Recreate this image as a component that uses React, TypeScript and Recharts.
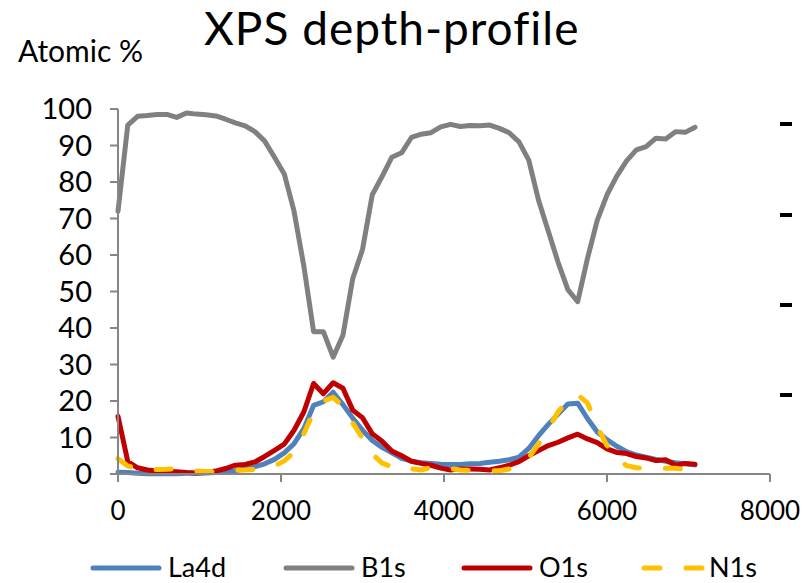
import { LineChart, Line, XAxis, YAxis } from "recharts";

// sputter depth (s) and atomic % per element
const depth = [
  0, 120, 240, 360, 480, 600, 720, 840, 960, 1080, 1200, 1320, 1440, 1560, 1680,
  1800, 1920, 2040, 2160, 2280, 2400, 2520, 2640, 2760, 2880, 3000, 3120, 3240,
  3360, 3480, 3600, 3720, 3840, 3960, 4080, 4200, 4320, 4440, 4560, 4680, 4800,
  4920, 5040, 5160, 5280, 5400, 5520, 5640, 5760, 5880, 6000, 6120, 6240, 6360,
  6480, 6600, 6720, 6840, 6960, 7080,
];

const la4d = [
  0.5, 0.4, 0.2, 0.1, 0.1, 0.1, 0.1, 0.2, 0.2, 0.3, 0.4, 0.7, 0.9, 1.4, 2.0,
  2.8, 4.0, 5.8, 8.3, 12.4, 18.8, 19.8, 22.4, 19.0, 15.3, 12.0, 9.2, 7.3, 5.8,
  4.3, 3.5, 3.1, 2.9, 2.7, 2.6, 2.6, 2.8, 2.9, 3.2, 3.5, 3.9, 4.6, 7.0, 10.5,
  13.6, 16.4, 19.2, 19.4, 15.2, 11.5, 9.4, 7.6, 6.1, 5.2, 4.6, 4.0, 3.5, 3.1,
  2.8, 2.5,
];

const b1s = [
  72, 95.6, 98, 98.2, 98.5, 98.5, 97.7, 98.9, 98.6, 98.4, 98.1, 97.2, 96.2,
  95.4, 93.8, 91.2, 86.8, 82.2, 72, 57, 39, 39, 32, 38, 53.5, 61.5, 76.5, 81.5,
  86.8, 88, 92.2, 93.1, 93.5, 95.1, 95.8, 95.2, 95.5, 95.4, 95.6, 94.7, 93.5,
  91, 86, 75, 66.5, 58, 50.5, 47.2, 59, 69.5, 76.5, 81.6, 85.8, 88.8, 89.7, 92,
  91.8, 93.8, 93.6, 95,
];

const o1s = [
  15.8, 3.4, 1.7, 1.1, 0.8, 0.7, 0.6, 0.4, 0.3, 0.4, 0.8, 1.5, 2.4, 2.6, 3.3,
  4.8, 6.5, 8.2, 12, 17, 24.8, 22, 25, 23.5, 17.5, 15.4, 11, 9, 6.3, 5, 3.5,
  2.9, 2.4, 1.6, 1.1, 1.4, 1.4, 1.3, 1.1, 1.7, 2.4, 3.4, 5, 6.4, 7.8, 8.7, 9.9,
  10.9, 9.6, 8.6, 6.9, 5.9, 5.6, 4.8, 4.4, 3.7, 3.9, 2.4, 2.9, 2.7,
];

const n1s = [
  4.2, 2.2, 1.4, 1.2, 1.2, 1.3, 1.5, 1.0, 0.8, 0.7, 0.7, 0.8, 1.0, 1.1, 1.3,
  1.5, 2.2, 3.6, 6.0, 11, 17, 20, 21, 18.5, 14, 9.8, 5.5, 3.0, 2.0, 2.5, 1.4,
  1.1, 1.8, 2.0, 1.5, 1.1, 1.0, 1.1, 0.9, 0.9, 1.4, 2.4, 4.5, 8.2, 12.5, 17,
  20.3, 21.7, 19.5, 13, 7.8, 4.2, 2.3, 1.7, 1.6, 1.6, 1.6, 1.6, 1.2, 0.6,
];

const xTicks = [0, 2000, 4000, 6000, 8000];
const yTicks = [0, 10, 20, 30, 40, 50, 60, 70, 80, 90, 100];

const series = [
  { key: "la4d", name: "La4d", color: "#4F81BD", dash: undefined },
  { key: "b1s", name: "B1s", color: "#808080", dash: undefined },
  { key: "o1s", name: "O1s", color: "#C00000", dash: undefined },
  { key: "n1s", name: "N1s", color: "#FFC000", dash: "15 26" },
];

const data = depth.map((d, i) => ({
  depth: d,
  la4d: la4d[i],
  b1s: b1s[i],
  o1s: o1s[i],
  n1s: n1s[i],
}));

const FONT = "Lato, 'Liberation Sans', sans-serif";
const axisColor = "#868686";

// legend swatch / label positions along the bottom row
const legendPos = [
  { left: 93, textLeft: 168 },
  { left: 286, textLeft: 361 },
  { left: 464, textLeft: 539 },
  { left: 644, textLeft: 709 },
];

function LegendRow() {
  return (
    <>
      {series.map((s, i) => (
        <div key={s.key}>
          <svg
            style={{
              position: "absolute",
              left: legendPos[i].left - 4,
              top: 560,
              zIndex: 2,
            }}
            width={80}
            height={16}
          >
            <line
              x1={4}
              y1={8}
              x2={s.dash ? 64 : 70}
              y2={8}
              stroke={s.color}
              strokeWidth={5}
              strokeLinecap="round"
              strokeDasharray={s.dash ? "16 26" : undefined}
            />
          </svg>
          <span
            style={{
              position: "absolute",
              left: legendPos[i].textLeft,
              top: 550,
              zIndex: 2,
              fontSize: 27,
              lineHeight: "normal",
              color: "#000",
              whiteSpace: "nowrap",
            }}
          >
            {s.name}
          </span>
        </div>
      ))}
    </>
  );
}

export default function App() {
  return (
    <div
      style={{
        position: "relative",
        width: 805,
        height: 583,
        fontFamily: FONT,
        background: "#fff",
      }}
    >
      <style>{"html,body{margin:0;padding:0;overflow:hidden;}"}</style>

      <div style={{ position: "absolute", left: 0, top: 0, zIndex: 1 }}>
        <LineChart
          width={805}
          height={583}
          data={data}
          margin={{ top: 109, right: 35, bottom: 69, left: 0 }}
        >
          <XAxis
            dataKey="depth"
            type="number"
            domain={[0, 8000]}
            ticks={xTicks}
            interval={0}
            height={40}
            tickSize={8}
            tickMargin={20}
            stroke={axisColor}
            strokeWidth={2}
            tick={{ fill: "#000", fontSize: 26, fontFamily: FONT }}
          />
          <YAxis
            domain={[0, 100]}
            ticks={yTicks}
            interval={0}
            width={118}
            tickSize={8}
            tickMargin={18}
            stroke={axisColor}
            strokeWidth={2}
            tick={{ fill: "#000", fontSize: 29, fontFamily: FONT }}
          />
          {series.map((s) => (
            <Line
              key={s.key}
              dataKey={s.key}
              name={s.name}
              stroke={s.color}
              strokeWidth={5}
              strokeDasharray={s.dash}
              strokeLinecap="round"
              strokeLinejoin="round"
              dot={false}
              activeDot={false}
              isAnimationActive={false}
            />
          ))}
        </LineChart>
      </div>

      <div
        style={{
          position: "absolute",
          left: 204,
          top: 0,
          zIndex: 2,
          fontSize: 46,
          letterSpacing: 1,
          lineHeight: "normal",
          color: "#000",
          whiteSpace: "nowrap",
        }}
      >
        XPS depth-profile
      </div>
      <div
        style={{
          position: "absolute",
          left: 18,
          top: 32,
          zIndex: 2,
          fontSize: 30,
          lineHeight: "normal",
          color: "#000",
          whiteSpace: "nowrap",
        }}
      >
        Atomic %
      </div>

      <LegendRow />

      {[122, 213, 303, 393].map((y) => (
        <div
          key={y}
          style={{
            position: "absolute",
            left: 780,
            top: y,
            width: 12,
            height: 4,
            zIndex: 2,
            background: "#000",
          }}
        />
      ))}
    </div>
  );
}
